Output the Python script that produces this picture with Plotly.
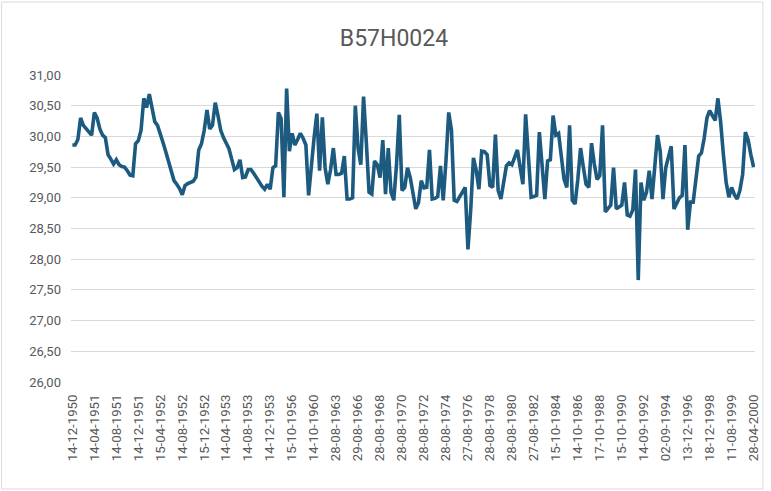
import plotly.graph_objects as go

# Water-level readings for well B57H0024, one value per observation
levels = [
    29.86, 29.86, 29.95, 30.30, 30.18, 30.12, 30.07, 30.02, 30.39, 30.30,
    30.12, 30.02, 29.98, 29.70, 29.63, 29.55, 29.62, 29.54, 29.51, 29.50,
    29.44, 29.37, 29.36, 29.88, 29.93, 30.10, 30.62, 30.47, 30.69, 30.42,
    30.24, 30.18, 30.06, 29.90, 29.75, 29.58, 29.44, 29.28, 29.22, 29.15,
    29.05, 29.20, 29.23, 29.25, 29.27, 29.34, 29.78, 29.88, 30.10, 30.43,
    30.12, 30.18, 30.55, 30.34, 30.10, 29.98, 29.90, 29.80, 29.63, 29.46,
    29.49, 29.62, 29.33, 29.34, 29.46, 29.46, 29.40, 29.33, 29.25, 29.19,
    29.14, 29.22, 29.14, 29.49, 29.52, 30.39, 30.29, 29.01, 30.78, 29.76,
    30.05, 29.86, 29.95, 30.05, 29.97, 29.86, 29.04, 29.60, 29.98, 30.37,
    29.44, 30.31, 29.49, 29.22, 29.46, 29.81, 29.38, 29.38, 29.40, 29.68,
    28.98, 28.98, 29.00, 30.50, 29.81, 29.54, 30.65, 29.91, 29.09, 29.06,
    29.60, 29.54, 29.33, 29.94, 29.06, 29.81, 29.09, 28.96, 29.54, 30.35,
    29.12, 29.17, 29.49, 29.33, 29.05, 28.82, 28.92, 29.28, 29.16, 29.17,
    29.78, 28.98, 28.99, 29.02, 29.52, 28.96, 29.60, 30.39, 30.10, 28.96,
    28.94, 29.02, 29.08, 29.17, 28.16, 28.80, 29.65, 29.45, 29.14, 29.76,
    29.75, 29.70, 29.20, 29.17, 30.03, 29.12, 28.98, 29.30, 29.52, 29.57,
    29.54, 29.66, 29.78, 29.50, 29.22, 30.36, 29.75, 29.01, 29.02, 29.04,
    30.07, 29.49, 28.98, 29.60, 29.62, 30.34, 30.02, 30.05, 29.65, 29.30,
    29.17, 30.18, 28.96, 28.90, 29.30, 29.81, 29.50, 29.22, 29.17, 29.89,
    29.55, 29.30, 29.36, 30.18, 28.77, 28.82, 28.88, 29.49, 28.82, 28.85,
    28.88, 29.25, 28.72, 28.70, 28.80, 29.46, 27.66, 29.25, 28.96, 29.09,
    29.44, 28.98, 29.50, 30.02, 29.76, 28.98, 29.49, 29.65, 29.84, 28.82,
    28.92, 29.00, 29.04, 29.86, 28.48, 28.93, 28.93, 29.30, 29.68, 29.73,
    29.97, 30.30, 30.42, 30.34, 30.26, 30.62, 30.23, 29.70, 29.25, 29.01,
    29.17, 29.05, 28.98, 29.12, 29.38, 30.07, 29.94, 29.70, 29.50,
]

# Dates shown under the axis, one for every eighth observation
date_labels = [
    "14-12-1950", "14-04-1951", "14-08-1951", "14-12-1951", "15-04-1952",
    "14-08-1952", "15-12-1952", "14-04-1953", "14-08-1953", "14-12-1953",
    "15-10-1956", "14-10-1960", "28-08-1963", "29-08-1966", "28-08-1968",
    "28-08-1970", "28-08-1972", "28-08-1974", "27-08-1976", "28-08-1978",
    "28-08-1980", "27-08-1982", "15-10-1984", "14-10-1986", "17-10-1988",
    "15-10-1990", "14-09-1992", "02-09-1994", "13-12-1996", "18-12-1998",
    "11-08-1999", "28-04-2000",
]
label_step = 8

y_ticks = [26.0, 26.5, 27.0, 27.5, 28.0, 28.5, 29.0, 29.5, 30.0, 30.5, 31.0]

obs_index = list(range(len(levels)))
tick_positions = obs_index[::label_step][:len(date_labels)]

fig = go.Figure(
    go.Scatter(
        x=obs_index,
        y=levels,
        mode="lines",
        line=dict(color="#1c5a80", width=3.6),
        hoverinfo="y",
    )
)

text_gray = "#595959"
grid_gray = "#d9d9d9"
font_family = "Roboto, Arial, sans-serif"

fig.update_layout(
    width=771,
    height=491,
    paper_bgcolor="white",
    plot_bgcolor="white",
    separators=",.",
    margin=dict(l=71, r=10, t=75, b=109),
    showlegend=False,
    title=dict(
        text="B57H0024",
        x=0.511,
        xanchor="center",
        y=0.923,
        yanchor="middle",
        font=dict(family=font_family, size=23, color=text_gray),
    ),
    xaxis=dict(
        range=[-0.5, len(levels) - 0.5],
        tickmode="array",
        tickvals=tick_positions,
        ticktext=date_labels,
        tickangle=-90,
        tickfont=dict(family=font_family, size=13.2, color=text_gray),
        ticklabelstandoff=9,
        showgrid=False,
        zeroline=False,
        showline=False,
        ticks="",
    ),
    yaxis=dict(
        range=[26, 31],
        tickmode="array",
        tickvals=y_ticks,
        tickformat=".2f",
        tickfont=dict(family=font_family, size=13, color=text_gray),
        showgrid=True,
        gridcolor=grid_gray,
        gridwidth=1,
        zeroline=False,
        showline=False,
        ticks="",
        ticklabelstandoff=9,
    ),
    shapes=[
        dict(
            type="rect",
            xref="paper",
            yref="paper",
            x0=-70 / 690,
            x1=698 / 690,
            y0=-107 / 307,
            y1=380 / 307,
            line=dict(color=grid_gray, width=1),
            fillcolor="rgba(0,0,0,0)",
            layer="below",
        )
    ],
)

fig.write_html("out.html")
